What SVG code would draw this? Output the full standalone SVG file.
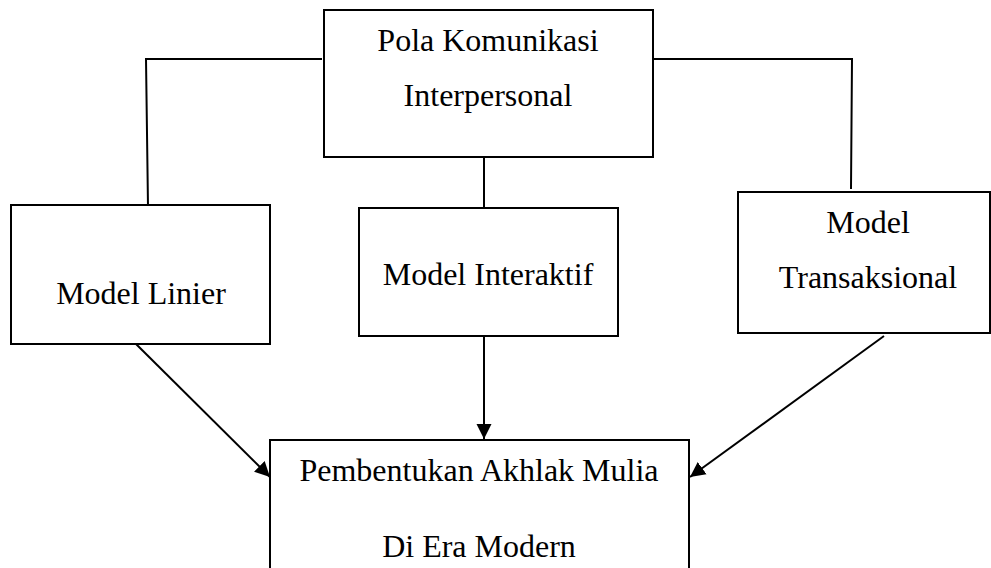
<svg xmlns="http://www.w3.org/2000/svg" width="991" height="568" viewBox="0 0 991 568">
  <style>
    .box { fill: #ffffff; stroke: #000000; stroke-width: 2; }
    .lbl { font-family: "Liberation Serif", "Times New Roman", serif; font-size: 32px; fill: #000000; text-anchor: middle; }
    .wire { fill: none; stroke: #000000; stroke-width: 2; }
    .arrow { fill: none; stroke: #000000; stroke-width: 2; marker-end: url(#head); }
  </style>
  <defs>
    <marker id="head" markerUnits="userSpaceOnUse" markerWidth="16" markerHeight="16" viewBox="0 0 16 16" refX="15" refY="8" orient="auto">
      <path d="M0,0.5 L15,8 L0,15.5 Z" fill="#000000"/>
    </marker>
  </defs>
  <rect width="991" height="568" fill="#ffffff"/>

  <g id="connectors">
    <polyline class="wire" points="322,59 146,59 148,207"/>
    <polyline class="wire" points="653,59 852,59 851,189"/>
    <line class="wire" x1="484" y1="157" x2="484" y2="208"/>
    <line class="arrow" x1="136" y1="344" x2="270" y2="477"/>
    <line class="arrow" x1="484" y1="336" x2="484" y2="439"/>
    <line class="arrow" x1="884" y1="336" x2="690" y2="477"/>
  </g>

  <g id="pola-komunikasi">
    <rect class="box" x="324" y="10" width="329" height="147"/>
    <text class="lbl" x="488" y="51">Pola Komunikasi</text>
    <text class="lbl" x="488" y="106">Interpersonal</text>
  </g>

  <g id="model-linier">
    <rect class="box" x="11" y="205" width="259" height="139"/>
    <text class="lbl" x="141" y="304">Model Linier</text>
  </g>

  <g id="model-interaktif">
    <rect class="box" x="359" y="208" width="259" height="128"/>
    <text class="lbl" x="488" y="285">Model Interaktif</text>
  </g>

  <g id="model-transaksional">
    <rect class="box" x="738" y="192" width="252" height="141"/>
    <text class="lbl" x="868" y="233">Model</text>
    <text class="lbl" x="868" y="288">Transaksional</text>
  </g>

  <g id="pembentukan-akhlak">
    <rect class="box" x="270" y="440" width="419" height="140"/>
    <text class="lbl" x="479" y="481">Pembentukan Akhlak Mulia</text>
    <text class="lbl" x="479" y="557">Di Era Modern</text>
  </g>
</svg>
